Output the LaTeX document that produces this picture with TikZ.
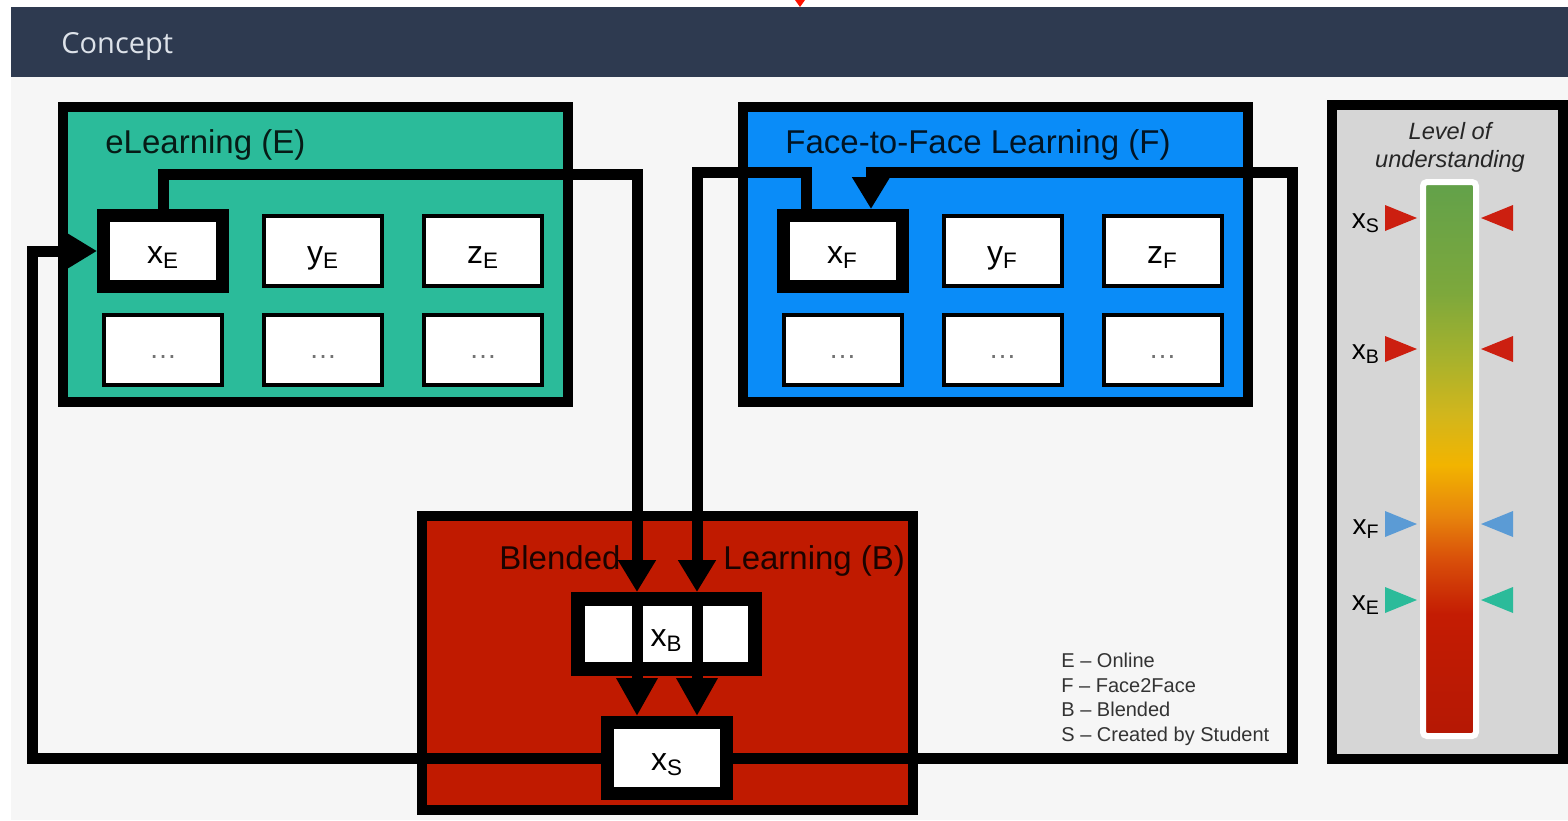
\documentclass[tikz,border=0pt]{standalone}
\usepackage{fontspec}
\setmainfont{Liberation Sans}
\newfontfamily\headfont{Open Sans}
\usetikzlibrary{arrows.meta,positioning,calc}

\definecolor{headbg}{HTML}{2E3A50}
\definecolor{headtext}{HTML}{DDE2E9}
\definecolor{pagebg}{HTML}{F6F6F6}
\definecolor{eteal}{HTML}{2BBB9A}
\definecolor{fblue}{HTML}{0A8CF8}
\definecolor{bred}{HTML}{C01A00}
\definecolor{panelgray}{HTML}{D6D6D6}
\definecolor{smark}{HTML}{CC1F10}
\definecolor{fmark}{HTML}{5B9BD5}
\definecolor{lvred}{HTML}{B51804}
\definecolor{lvredb}{HTML}{C41C03}
\definecolor{lvorange}{HTML}{D9500A}
\definecolor{lvorangeb}{HTML}{E8860C}
\definecolor{lvyellow}{HTML}{F2B400}
\definecolor{lvyellowb}{HTML}{D2B61C}
\definecolor{lvolive}{HTML}{A8B22C}
\definecolor{lvgreenb}{HTML}{7DA83C}
\definecolor{lvgreen}{HTML}{62A14A}

\pgfdeclareverticalshading{understanding}{100bp}{%
  color(0bp)=(lvred); color(25bp)=(lvred); color(36bp)=(lvredb);
  color(41bp)=(lvorange); color(45bp)=(lvorangeb); color(49.5bp)=(lvyellow);
  color(54bp)=(lvyellowb); color(59bp)=(lvolive); color(65bp)=(lvgreenb);
  color(75bp)=(lvgreen); color(100bp)=(lvgreen)}

\begin{document}
\begin{tikzpicture}[
    x=0.5pt, y=-0.5pt,
    node distance=80pt,
    area/.style={rectangle, draw, line width=5pt, inner sep=0pt},
    areatitle/.style={anchor=base west, inner sep=0pt, text=black, text opacity=0.85, font=\fontsize{16.5}{18}\selectfont},
    cell/.style={rectangle, draw, fill=white, line width=2pt, inner sep=0pt, minimum width=59pt, minimum height=35pt, text height=12pt, text depth=0pt, font=\fontsize{16}{18}\selectfont},
    keycell/.style={cell, line width=6.5pt, minimum width=59.5pt, minimum height=35.5pt},
    dotcell/.style={cell, text height=9pt, text=black!55, font=\fontsize{14}{16}\selectfont},
    conn/.style={line width=5.5pt, -{Triangle[length=16pt,width=18pt]}},
    bigconn/.style={conn, -{Triangle[length=19pt,width=19.5pt]}},
    marker/.style={inner sep=0pt, anchor=base, font=\fontsize{14}{16}\selectfont}
]
    \useasboundingbox (0,0) rectangle (1568,820);
    \fill[white] (0,0) rectangle (1568,820);
    \fill[pagebg] (11,77) rectangle (1568,820);
    \fill[headbg] (11,7) rectangle (1568,77);
    \fill[red!85!orange] (795,0) -- (805,0) -- (800,7) -- cycle;
    \node[anchor=base west, inner sep=0pt, text=headtext, font=\headfont\fontsize{14.5}{16}\selectfont] (concept) at (61,53) {Concept};

    % Areas
    \node[area, fill=eteal, minimum width=252.5pt, minimum height=147.5pt] (elearn) at (315.5,254.5) {};
    \node[area, fill=fblue, minimum width=252.5pt, minimum height=147.5pt] (facelearn) at (995.5,254.5) {};
    \node[area, fill=bred, minimum width=245.5pt, minimum height=147pt] (blended) at (667.5,663) {};
    \node[areatitle] (etitle) at (105,153) {eLearning (E)};
    \node[areatitle] (ftitle) at (785,153) {Face-to-Face Learning (F)};
    \node[areatitle] (btitlea) at (499,569) {Blended};
    \node[areatitle] (btitleb) at (723,569) {Learning (B)};

    % Nodes
    \node[keycell] (xe) at (163,251) {x\textsubscript{E}};
    \node[cell, right of=xe] (ye) {y\textsubscript{E}};
    \node[cell, right of=ye] (ze) {z\textsubscript{E}};
    \node[dotcell, below of=xe, yshift=30.75pt] (eda) {…};
    \node[dotcell, right of=eda] (edb) {…};
    \node[dotcell, right of=edb] (edc) {…};

    \node[keycell] (xf) at (842.5,251) {x\textsubscript{F}};
    \node[cell, right of=xf] (yf) {y\textsubscript{F}};
    \node[cell, right of=yf] (zf) {z\textsubscript{F}};
    \node[dotcell, below of=xf, yshift=30.75pt] (fda) {…};
    \node[dotcell, right of=fda] (fdb) {…};
    \node[dotcell, right of=fdb] (fdc) {…};

    \node[keycell, line width=7pt, minimum width=88.5pt, minimum height=35pt] (xb) at (666.5,634) {x\textsubscript{B}};
    \node[keycell] (xs) at (667,758) {x\textsubscript{S}};

    \node[anchor=north west, align=left, inner sep=0pt, text=black!80, font=\fontsize{10}{12.2}\selectfont] (legend) at (1061,653) {E – Online\\F – Face2Face\\B – Blended\\S – Created by Student};

    % Level of understanding
    \node[area, fill=panelgray, minimum width=115.5pt, minimum height=327pt] (panel) at (1447.5,432) {};
    \node[align=center, inner sep=0pt, text=black!85, font=\itshape\fontsize{11.8}{14}\selectfont] (lvltitle) at (1450,147) {Level of\\understanding};
    \node[draw=white, line width=3pt, rounded corners=2pt, shade, shading=understanding, inner sep=0pt, minimum width=26.5pt, minimum height=277pt] (bar) at (1449.5,459) {};
    \foreach \lab/\yy/\col in {S/218/smark, B/349/smark, F/524/fmark, E/600/eteal} {
        \fill[\col] (1385,\yy-13) -- (1417,\yy) -- (1385,\yy+13) -- cycle;
        \fill[\col] (1513,\yy-13) -- (1481,\yy) -- (1513,\yy+13) -- cycle;
        \node[marker] (mark\lab) at (1366,\yy+10) {x\textsubscript{\lab}};
    }

    % Arrows
    \coordinate (ebend) at (637,174);
    \coordinate (fout) at (806,172);
    \coordinate (fbend) at (697,172);
    \coordinate (rcorner) at (1292,172);
    \coordinate (fin) at (871,172);
    \coordinate (lcorner) at (32,251);
    \draw[conn] (xe.north) |- (ebend) -- (xb.north -| ebend);
    \draw[conn] (xf.north -| fout) |- (fbend) -- (xb.north -| fbend);
    \draw[bigconn] (xb.north -| ebend) -- (xs.north -| ebend);
    \draw[bigconn] (xb.north -| fbend) -- (xs.north -| fbend);
    \draw[conn] (xs.east) -| (rcorner) -- (fin) -- (xf.north -| fin);
    \draw[conn] (xs.west) -| (lcorner) -- (xe.west);
\end{tikzpicture}
\end{document}
